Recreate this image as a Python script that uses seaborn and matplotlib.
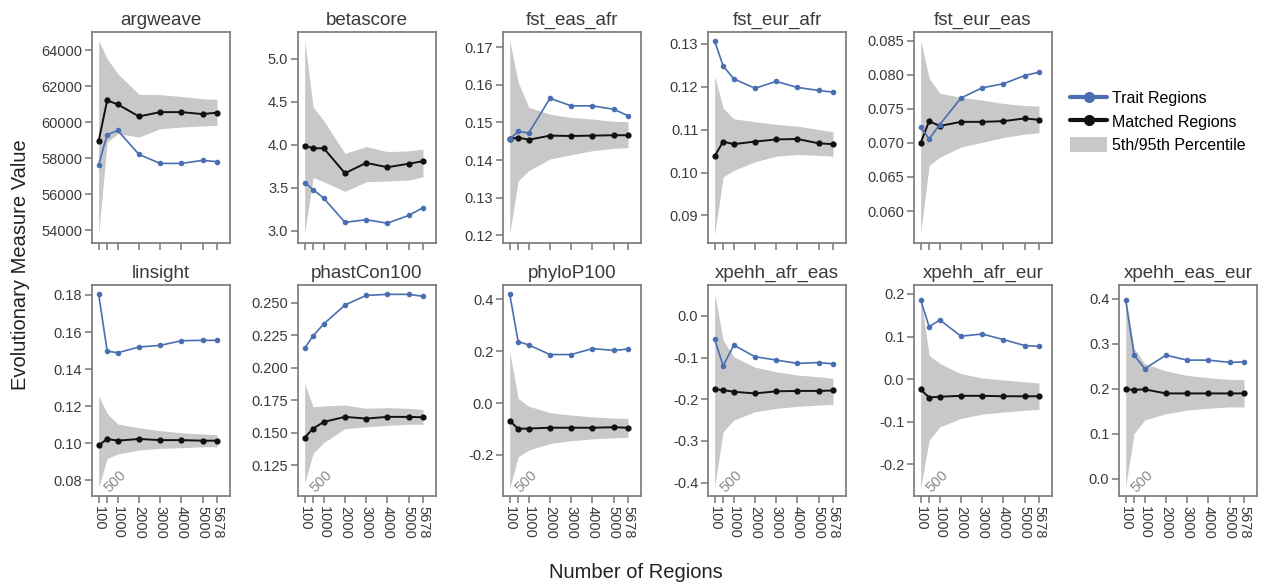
import matplotlib
matplotlib.use("Agg")
import matplotlib.pyplot as plt
import seaborn as sns
import pandas as pd
import numpy as np
from matplotlib.lines import Line2D
from matplotlib.patches import Patch

N_REGIONS = [100, 500, 1000, 2000, 3000, 4000, 5000, 5678]
TICK_LABELS = ["100", "", "1000", "2000", "3000", "4000", "5000", "5678"]

MEASURES = ["argweave", "betascore", "fst_eas_afr", "fst_eur_afr", "fst_eur_eas",
            "linsight", "phastCon100", "phyloP100", "xpehh_afr_eas", "xpehh_afr_eur", "xpehh_eas_eur"]

TRAIT = {
    "argweave": [57650, 59310, 59550, 58220, 57720, 57720, 57890, 57815],
    "betascore": [3.56, 3.48, 3.38, 3.10, 3.13, 3.09, 3.18, 3.27],
    "fst_eas_afr": [0.1456, 0.1476, 0.1472, 0.1564, 0.1544, 0.1544, 0.1535, 0.1518],
    "fst_eur_afr": [0.1306, 0.1248, 0.1218, 0.1196, 0.1212, 0.1198, 0.1191, 0.1187],
    "fst_eur_eas": [0.0723, 0.0706, 0.0727, 0.0766, 0.0781, 0.0787, 0.0799, 0.0804],
    "linsight": [0.1805, 0.1497, 0.1488, 0.1519, 0.1528, 0.1553, 0.1555, 0.1555],
    "phastCon100": [0.2149, 0.2246, 0.2336, 0.2482, 0.2556, 0.2564, 0.2564, 0.2549],
    "phyloP100": [0.421, 0.237, 0.224, 0.187, 0.187, 0.210, 0.203, 0.208],
    "xpehh_afr_eas": [-0.056, -0.120, -0.070, -0.098, -0.106, -0.114, -0.112, -0.115],
    "xpehh_afr_eur": [0.186, 0.123, 0.139, 0.101, 0.106, 0.093, 0.079, 0.077],
    "xpehh_eas_eur": [0.398, 0.275, 0.245, 0.275, 0.264, 0.264, 0.259, 0.260],
}

MATCHED = {
    "argweave": [58960, 61220, 61000, 60330, 60570, 60570, 60460, 60540],
    "betascore": [3.99, 3.96, 3.96, 3.67, 3.79, 3.74, 3.78, 3.81],
    "fst_eas_afr": [0.1456, 0.1460, 0.1454, 0.1465, 0.1464, 0.1465, 0.1466, 0.1466],
    "fst_eur_afr": [0.1038, 0.1072, 0.1066, 0.1072, 0.1077, 0.1078, 0.1068, 0.1066],
    "fst_eur_eas": [0.0700, 0.0732, 0.0725, 0.0731, 0.0731, 0.0732, 0.0736, 0.0734],
    "linsight": [0.0987, 0.1022, 0.1013, 0.1022, 0.1016, 0.1016, 0.1013, 0.1013],
    "phastCon100": [0.1462, 0.1531, 0.1582, 0.1621, 0.1608, 0.1621, 0.1621, 0.1618],
    "phyloP100": [-0.068, -0.099, -0.098, -0.095, -0.095, -0.095, -0.093, -0.095],
    "xpehh_afr_eas": [-0.176, -0.178, -0.182, -0.186, -0.181, -0.180, -0.180, -0.179],
    "xpehh_afr_eur": [-0.024, -0.043, -0.041, -0.039, -0.039, -0.040, -0.040, -0.040],
    "xpehh_eas_eur": [0.199, 0.198, 0.199, 0.190, 0.190, 0.190, 0.190, 0.190],
}

LOWER = {
    "argweave": [53815, 58900, 59370, 59185, 59650, 59740, 59800, 59830],
    "betascore": [2.97, 3.62, 3.57, 3.46, 3.57, 3.58, 3.59, 3.63],
    "fst_eas_afr": [0.1204, 0.1345, 0.1372, 0.1403, 0.1414, 0.1425, 0.1431, 0.1433],
    "fst_eur_afr": [0.0855, 0.0990, 0.1005, 0.1025, 0.1038, 0.1042, 0.1040, 0.1038],
    "fst_eur_eas": [0.0567, 0.0667, 0.0679, 0.0694, 0.0701, 0.0708, 0.0713, 0.0715],
    "linsight": [0.0760, 0.0917, 0.0941, 0.0962, 0.0971, 0.0975, 0.0980, 0.0980],
    "phastCon100": [0.1109, 0.1340, 0.1423, 0.1531, 0.1544, 0.1556, 0.1564, 0.1564],
    "phyloP100": [-0.329, -0.207, -0.181, -0.156, -0.145, -0.138, -0.134, -0.132],
    "xpehh_afr_eas": [-0.410, -0.278, -0.250, -0.230, -0.222, -0.217, -0.214, -0.212],
    "xpehh_afr_eur": [-0.256, -0.143, -0.112, -0.092, -0.082, -0.077, -0.073, -0.071],
    "xpehh_eas_eur": [-0.017, 0.101, 0.131, 0.145, 0.153, 0.157, 0.160, 0.160],
}

UPPER = {
    "argweave": [64550, 63540, 62700, 61560, 61540, 61440, 61310, 61280],
    "betascore": [5.21, 4.44, 4.28, 3.90, 3.98, 3.92, 3.93, 3.95],
    "fst_eas_afr": [0.1718, 0.1607, 0.1540, 0.1522, 0.1513, 0.1509, 0.1503, 0.1502],
    "fst_eur_afr": [0.1225, 0.1150, 0.1125, 0.1118, 0.1112, 0.1108, 0.1100, 0.1095],
    "fst_eur_eas": [0.0851, 0.0795, 0.0773, 0.0767, 0.0763, 0.0758, 0.0755, 0.0754],
    "linsight": [0.1254, 0.1160, 0.1103, 0.1083, 0.1067, 0.1056, 0.1049, 0.1045],
    "phastCon100": [0.1879, 0.1699, 0.1705, 0.1712, 0.1687, 0.1692, 0.1687, 0.1677],
    "phyloP100": [0.198, 0.018, -0.012, -0.037, -0.046, -0.053, -0.058, -0.059],
    "xpehh_afr_eas": [0.054, -0.058, -0.098, -0.123, -0.134, -0.142, -0.146, -0.150],
    "xpehh_afr_eur": [0.195, 0.056, 0.037, 0.013, 0.003, -0.002, -0.006, -0.009],
    "xpehh_eas_eur": [0.405, 0.290, 0.256, 0.240, 0.230, 0.225, 0.221, 0.221],
}

YLIMS = {
    "argweave": (53300, 65020),
    "betascore": (2.86, 5.31),
    "fst_eas_afr": (0.118, 0.174),
    "fst_eur_afr": (0.0836, 0.1327),
    "fst_eur_eas": (0.0553, 0.0863),
    "linsight": (0.0714, 0.1854),
    "phastCon100": (0.1012, 0.2636),
    "phyloP100": (-0.358, 0.455),
    "xpehh_afr_eas": (-0.432, 0.074),
    "xpehh_afr_eur": (-0.274, 0.221),
    "xpehh_eas_eur": (-0.038, 0.431),
}

YTICKS = {
    "argweave": [54000, 56000, 58000, 60000, 62000, 64000],
    "betascore": [3.0, 3.5, 4.0, 4.5, 5.0],
    "fst_eas_afr": [0.12, 0.13, 0.14, 0.15, 0.16, 0.17],
    "fst_eur_afr": [0.09, 0.10, 0.11, 0.12, 0.13],
    "fst_eur_eas": [0.060, 0.065, 0.070, 0.075, 0.080, 0.085],
    "linsight": [0.08, 0.10, 0.12, 0.14, 0.16, 0.18],
    "phastCon100": [0.125, 0.150, 0.175, 0.200, 0.225, 0.250],
    "phyloP100": [-0.2, 0.0, 0.2, 0.4],
    "xpehh_afr_eas": [-0.4, -0.3, -0.2, -0.1, 0.0],
    "xpehh_afr_eur": [-0.2, -0.1, 0.0, 0.1, 0.2],
    "xpehh_eas_eur": [0.0, 0.1, 0.2, 0.3, 0.4],
}
YFMT = {
    "argweave": "{:.0f}", "betascore": "{:.1f}", "fst_eas_afr": "{:.2f}", "fst_eur_afr": "{:.2f}",
    "fst_eur_eas": "{:.3f}", "linsight": "{:.2f}", "phastCon100": "{:.3f}", "phyloP100": "{:.1f}",
    "xpehh_afr_eas": "{:.1f}", "xpehh_afr_eur": "{:.1f}", "xpehh_eas_eur": "{:.1f}",
}

BLUE = "#4a6fb0"
BAND = "#c8c8c8"
SPINE = "#777777"
TEXT = "#3a3a3a"

sns.set_theme(style="ticks")
plt.rcParams["font.family"] = ["Liberation Sans", "DejaVu Sans"]

W, H = 1261, 584
fig = plt.figure(figsize=(W / 100, H / 100), dpi=100)

col_left = [92, 298, 503, 708, 914, 1119]
ax_w = 138
rows = [(32, 243), (285, 496)]
slots = [(0, c) for c in range(5)] + [(1, c) for c in range(6)]

for measure, (r, c) in zip(MEASURES, slots):
    top, bot = rows[r]
    ax = fig.add_axes([col_left[c] / W, 1 - bot / H, ax_w / W, (bot - top) / H])
    ax.fill_between(N_REGIONS, LOWER[measure], UPPER[measure], color=BAND, linewidth=0, zorder=1)
    df = pd.DataFrame({
        "n": N_REGIONS * 2,
        "value": TRAIT[measure] + MATCHED[measure],
        "group": ["Trait Regions"] * 8 + ["Matched Regions"] * 8,
    })
    sns.lineplot(data=df[df.group == "Matched Regions"], x="n", y="value", ax=ax, color="#111111",
                 marker="o", markersize=4.5, markeredgewidth=0, linewidth=1.4, zorder=3)
    sns.lineplot(data=df[df.group == "Trait Regions"], x="n", y="value", ax=ax, color=BLUE,
                 marker="o", markersize=4, markeredgewidth=0, linewidth=1.2, zorder=4)
    ax.set_xlim(-214, 6291)
    ax.set_ylim(*YLIMS[measure])
    ax.set_yticks(YTICKS[measure])
    ax.set_yticklabels([YFMT[measure].format(v) for v in YTICKS[measure]])
    ax.set_xticks(N_REGIONS)
    if r == 1:
        ax.set_xticklabels(TICK_LABELS, rotation=270, va="top", ha="center")
        ax.text(870, 0.07, "500", transform=ax.get_xaxis_transform(), rotation=45,
                ha="center", va="center", fontsize=10.5, color="#8a8a8a")
    else:
        ax.set_xticklabels([])
    ax.set_xlabel("")
    ax.set_ylabel("")
    ax.set_title(measure, fontsize=13.5, color=TEXT, pad=5)
    for s in ax.spines.values():
        s.set_color(SPINE)
        s.set_linewidth(1.2)
    ax.tick_params(axis="both", colors=SPINE, labelcolor=TEXT, labelsize=10.5, length=5, width=1.1, pad=2)

handles = [
    Line2D([0], [0], color=BLUE, linewidth=3, marker="o", markersize=7),
    Line2D([0], [0], color="#111111", linewidth=3, marker="o", markersize=7),
    Patch(facecolor=BAND, edgecolor="none"),
]
fig.legend(handles, ["Trait Regions", "Matched Regions", "5th/95th Percentile"],
           loc="upper left", bbox_to_anchor=(1056 / W, 1 - 76 / H), frameon=False,
           fontsize=11.5, handlelength=2.3, handleheight=1.1, handletextpad=0.3,
           labelspacing=0.45, labelcolor="black")

fig.text(21 / W, 1 - 265 / H, "Evolutionary Measure Value", rotation=90, ha="center", va="center",
         fontsize=14.5, color="#222222")
fig.text(636 / W, 1 - 572 / H, "Number of Regions", ha="center", va="center",
         fontsize=14.5, color="#222222")

fig.savefig("out.png", dpi=100)
